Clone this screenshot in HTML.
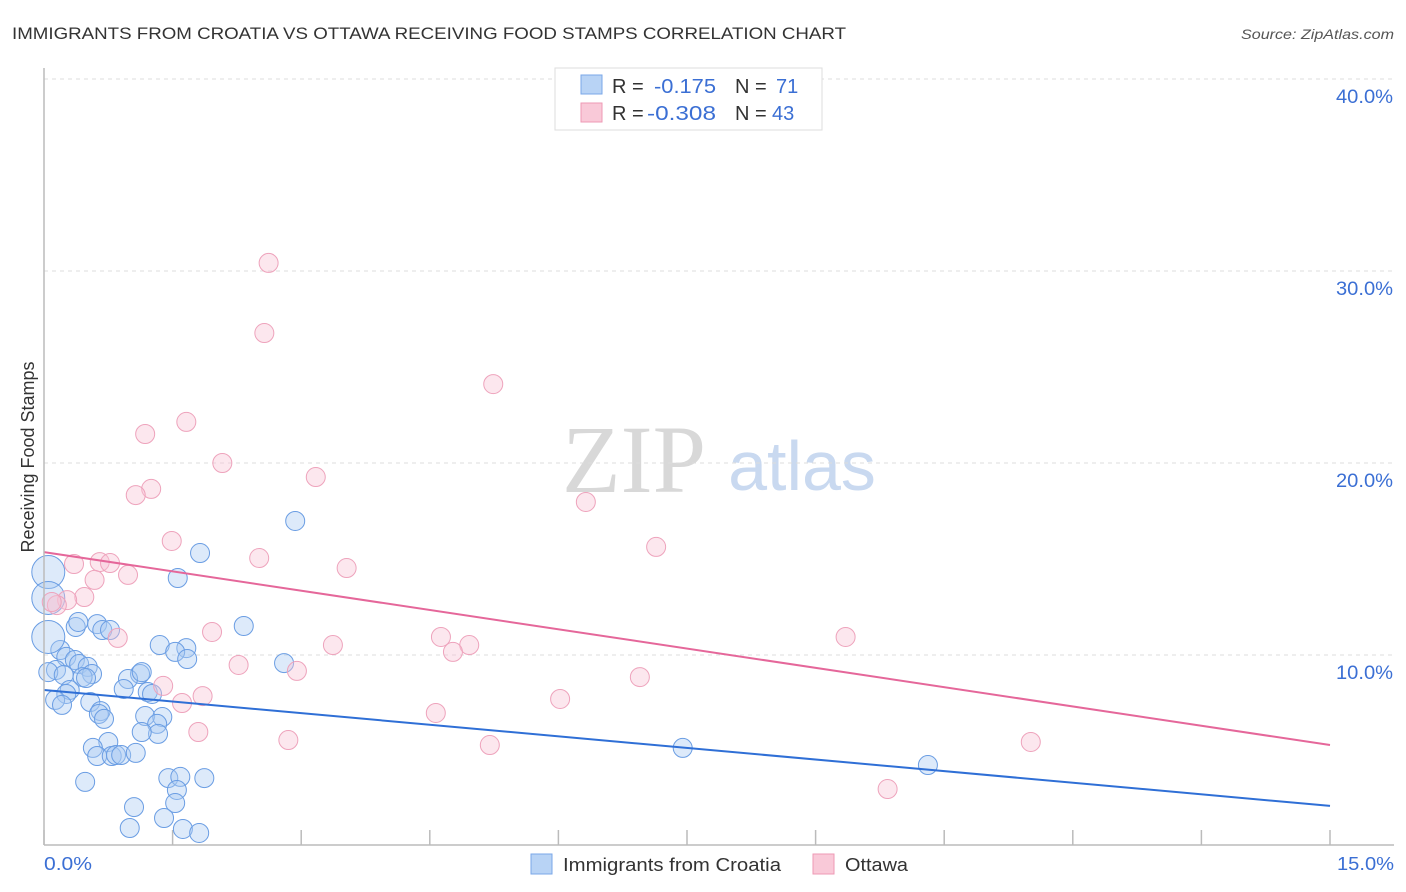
<!DOCTYPE html>
<html><head><meta charset="utf-8"><style>
body{margin:0;background:#fff;font-family:"Liberation Sans",sans-serif;}
#wrap{position:relative;width:1406px;height:892px;overflow:hidden;}
</style></head><body><div id="wrap">
<svg id="svg" width="1406" height="892" xmlns="http://www.w3.org/2000/svg">
<text x="12" y="39" font-size="17" fill="#333" textLength="834" lengthAdjust="spacingAndGlyphs">IMMIGRANTS FROM CROATIA VS OTTAWA RECEIVING FOOD STAMPS CORRELATION CHART</text>
<text x="1394" y="39" font-size="14" fill="#555" font-style="italic" text-anchor="end" textLength="153" lengthAdjust="spacingAndGlyphs">Source: ZipAtlas.com</text>
<text x="634" y="492" font-size="96" fill="#d8d8d8" font-family="Liberation Serif" text-anchor="middle">ZIP</text>
<text x="802" y="490" font-size="70" fill="#c9d9f0" text-anchor="middle">atlas</text>
<text transform="translate(34,457) rotate(-90)" font-size="18" fill="#333" text-anchor="middle">Receiving Food Stamps</text>
<g id="grid"></g><g id="pts"></g><g id="lines"></g>
<line x1="44" y1="68" x2="44" y2="845" stroke="#bbb" stroke-width="1.5"/>
<line x1="44" y1="845" x2="1394" y2="845" stroke="#bbb" stroke-width="1.5"/>
<text x="44" y="870" font-size="18" fill="#3b6fd4" textLength="48" lengthAdjust="spacingAndGlyphs">0.0%</text>
<text x="1394" y="870" font-size="18" fill="#3b6fd4" text-anchor="end" textLength="57" lengthAdjust="spacingAndGlyphs">15.0%</text>
<g>
<rect x="555" y="68" width="267" height="62" fill="#fff" stroke="#ddd"/>
<rect x="581" y="75" width="21" height="19" fill="#b8d3f5" stroke="#7aa7e8"/>
<rect x="581" y="103" width="21" height="19" fill="#f9c9d8" stroke="#ee99b4"/>
<text x="612" y="93" font-size="20" fill="#333">R =</text>
<text x="654" y="93" font-size="20" fill="#3b6fd4" textLength="62" lengthAdjust="spacingAndGlyphs">-0.175</text>
<text x="735" y="93" font-size="20" fill="#333">N =</text>
<text x="776" y="93" font-size="20" fill="#3b6fd4">71</text>
<text x="612" y="120" font-size="20" fill="#333">R =</text>
<text x="647" y="120" font-size="20" fill="#3b6fd4" textLength="69" lengthAdjust="spacingAndGlyphs">-0.308</text>
<text x="735" y="120" font-size="20" fill="#333">N =</text>
<text x="772" y="120" font-size="20" fill="#3b6fd4">43</text>
</g>
<g>
<rect x="531" y="854" width="21" height="20" fill="#b8d3f5" stroke="#7aa7e8"/>
<text x="563" y="871" font-size="18" fill="#333" textLength="218" lengthAdjust="spacingAndGlyphs">Immigrants from Croatia</text>
<rect x="813" y="854" width="21" height="20" fill="#f9c9d8" stroke="#ee99b4"/>
<text x="845" y="871" font-size="18" fill="#333" textLength="63" lengthAdjust="spacingAndGlyphs">Ottawa</text>
</g>
</svg>
<script>
const yTicks=[10,20,30,40];
const yTickLabels=["10.0%","20.0%","30.0%","40.0%"];
const xTicks=[0,1.5,3,4.5,6,7.5,9,10.5,12,13.5,15];
const blueX=[2.93,1.82,1.56,2.33,1.35,1.66,1.53,1.67,2.80,0.62,0.37,0.68,0.77,0.40,0.19,0.26,0.36,0.41,0.51,0.56,0.14,0.05,0.23,0.45,0.49,1.12,0.98,1.14,1.21,0.93,1.26,0.30,0.26,0.13,0.21,0.54,0.66,0.64,0.70,1.18,1.38,1.32,1.33,1.14,0.75,0.57,0.62,0.79,0.84,0.90,1.07,0.48,1.45,1.59,1.87,1.55,1.53,1.05,1.40,1.00,1.62,1.81,7.45,10.31,0.05,0.05,0.05];
const blueY=[16.98,15.31,14.01,11.51,10.52,10.36,10.16,9.79,9.58,11.61,11.46,11.30,11.30,11.72,10.26,9.90,9.74,9.53,9.38,9.01,9.22,9.11,8.96,8.85,8.80,9.01,8.75,9.11,8.07,8.23,7.97,8.18,7.97,7.66,7.40,7.55,7.08,6.93,6.67,6.82,6.77,6.41,5.89,5.99,5.47,5.16,4.74,4.74,4.79,4.79,4.90,3.39,3.59,3.65,3.59,2.97,2.29,2.08,1.51,0.99,0.94,0.73,5.16,4.27,14.32,10.94,12.97];
const blueSize=[9,9,9,9,9,9,9,9,9,9,9,9,9,9,9,9,9,9,9,9,9,9,9,9,9,9,9,9,9,9,9,9,9,9,9,9,9,9,9,9,9,9,9,9,9,9,9,9,9,9,9,9,9,9,9,9,9,9,9,9,9,9,9,9,16,16,16];
const pinkX=[2.62,2.57,5.24,1.66,1.18,2.08,3.17,1.25,1.07,6.32,1.49,7.14,2.51,0.35,0.65,0.77,0.59,0.98,3.53,0.47,0.27,0.15,0.09,1.96,0.86,4.63,4.96,3.37,9.35,4.77,2.27,2.95,6.95,1.39,1.85,1.61,6.02,4.57,1.80,2.85,5.20,11.51,9.84];
const pinkY=[30.42,26.77,24.11,22.14,21.51,20.00,19.27,18.65,18.33,17.97,15.94,15.63,15.05,14.74,14.84,14.79,13.91,14.17,14.53,13.02,12.86,12.60,12.76,11.20,10.89,10.94,10.52,10.52,10.94,10.16,9.48,9.17,8.85,8.39,7.86,7.50,7.71,6.98,5.99,5.57,5.31,5.47,3.02];
const blueLine=[8.18,2.14];
const pinkLine=[15.36,5.31];
const NS="http://www.w3.org/2000/svg";
const xs=v=>44+v*(1286/15);
const ys=v=>847-v*19.2;
function mk(t,a,p){const e=document.createElementNS(NS,t);for(const k in a)e.setAttribute(k,a[k]);p.appendChild(e);return e;}
const grid=document.getElementById('grid'),pts=document.getElementById('pts'),lines=document.getElementById('lines');
yTicks.forEach((t,i)=>{
 const l=mk('line',{x1:44,x2:1394,y1:ys(t),y2:ys(t),stroke:'#ddd','stroke-dasharray':'4,4'},grid);
 
 
 const tx=mk('text',{x:1393,y:ys(t)+24,'font-size':19,fill:'#3b6fd4','text-anchor':'end',textLength:57,lengthAdjust:'spacingAndGlyphs'},grid);
 tx.textContent=yTickLabels[i];
 
 
});
xTicks.forEach(t=>{
 const l=mk('line',{x1:xs(t),x2:xs(t),y1:830,y2:845,stroke:'#bbb','stroke-width':1.5},grid);
 
 
});
blueX.forEach((x,i)=>{
 const c=mk('circle',{cx:xs(x),cy:ys(blueY[i]),r:blueSize[i]+0.5,fill:'rgba(170,202,242,0.4)',stroke:'#6a9de3','stroke-width':1},pts);
 
 
});
pinkX.forEach((x,i)=>{
 const c=mk('circle',{cx:xs(x),cy:ys(pinkY[i]),r:9.5,fill:'rgba(247,195,212,0.4)',stroke:'#eea3bc','stroke-width':1},pts);
 
 
});
const bl=mk('line',{x1:xs(0),y1:ys(blueLine[0]),x2:xs(15),y2:ys(blueLine[1]),stroke:'#2f6fd6','stroke-width':2},lines);


const pl=mk('line',{x1:xs(0),y1:ys(pinkLine[0]),x2:xs(15),y2:ys(pinkLine[1]),stroke:'#e5679a','stroke-width':2},lines);


</script>
</div></body></html>
